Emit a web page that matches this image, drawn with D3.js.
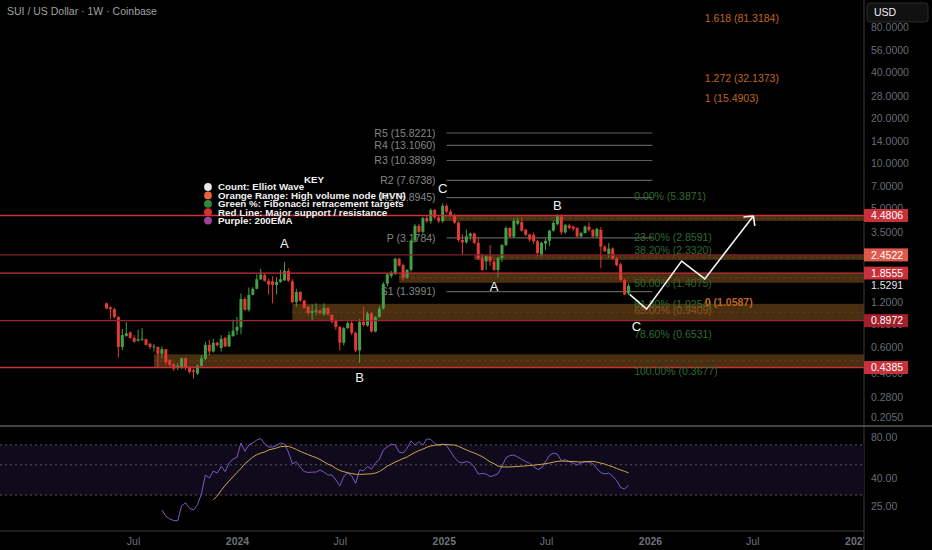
<!DOCTYPE html>
<html><head><meta charset="utf-8">
<script src="https://cdn.jsdelivr.net/npm/d3@7"></script>
<style>
html,body{margin:0;padding:0;background:#000;}
svg{display:block;font-family:"Liberation Sans",Arial,sans-serif;}
</style></head><body>
<svg id="c" width="932" height="550"></svg>
<script>
// ---------------- DATA ----------------
const lastWeek = "2025-11-24";
const opens = [1.17,1.10,1.07,0.95,0.60,0.71,0.75,0.69,0.66,0.67,
0.675,0.63,0.60,0.60,0.54,0.58,0.49,0.46,0.44,0.44,
0.505,0.435,0.42,0.40,0.45,0.50,0.62,0.56,0.64,0.59,
0.69,0.605,0.71,0.77,0.81,1.25,1.06,1.33,1.46,1.69,
1.80,1.65,1.64,1.55,1.62,1.66,1.92,1.64,1.19,1.39,
1.22,1.11,1.01,1.03,1.05,0.99,1.09,0.98,0.895,0.815,
0.64,0.80,0.865,0.745,0.57,0.88,0.83,1.00,0.76,0.95,
1.08,1.58,1.78,1.86,2.31,2.10,1.73,1.95,3.05,3.82,
3.49,4.31,4.10,4.87,4.35,4.10,5.20,4.75,4.50,4.02,
3.08,2.97,3.26,3.40,2.95,2.32,2.22,2.40,2.22,1.95,
2.34,2.85,3.70,3.24,3.95,4.05,3.60,3.35,3.33,3.02,
2.42,2.92,3.04,3.55,3.92,4.42,3.46,3.85,3.78,3.70,
3.25,3.43,3.78,3.59,3.25,3.59,2.78,2.48,2.70,2.32,
2.12,1.67,1.36];
const highs = [1.18,1.12,1.09,0.96,0.79,0.88,0.76,0.72,0.78,0.80,
0.68,0.64,0.63,0.605,0.605,0.58,0.50,0.47,0.47,0.51,
0.51,0.445,0.43,0.46,0.53,0.65,0.67,0.68,0.65,0.72,
0.70,0.76,0.91,0.95,1.36,1.29,1.49,1.50,1.82,1.98,
1.85,1.71,1.77,1.74,1.95,2.20,2.00,1.69,1.46,1.41,
1.23,1.12,1.15,1.17,1.06,1.17,1.10,0.99,0.91,0.83,
0.815,0.89,0.89,0.76,0.92,1.11,1.03,1.02,0.96,1.12,
1.62,1.85,1.92,2.35,2.35,2.14,1.97,3.10,3.94,3.95,
4.40,4.45,5.00,4.95,4.50,5.39,5.30,4.90,4.60,4.10,
3.36,3.62,3.45,3.45,3.20,2.50,2.45,2.85,2.30,2.38,
2.90,3.80,3.75,4.30,4.35,4.35,3.65,3.40,3.45,3.08,
3.00,3.15,3.60,4.15,4.55,4.55,3.95,3.95,3.85,3.75,
3.50,3.85,4.05,3.65,3.70,3.75,2.85,2.95,2.75,2.38,
2.18,1.71,1.58];
const lows = [1.07,0.92,0.93,0.51,0.57,0.70,0.68,0.64,0.65,0.66,
0.615,0.58,0.56,0.445,0.505,0.456,0.445,0.415,0.42,0.43,
0.42,0.40,0.37,0.39,0.445,0.49,0.53,0.55,0.605,0.56,
0.60,0.60,0.70,0.72,0.73,1.04,1.03,1.32,1.45,1.67,
1.63,1.34,1.17,1.34,1.60,1.65,1.63,1.17,1.11,1.19,
1.08,0.98,0.905,0.98,0.99,0.97,0.97,0.86,0.78,0.57,
0.615,0.79,0.72,0.555,0.47,0.82,0.82,0.75,0.75,0.94,
1.06,1.52,1.72,1.80,2.05,1.66,1.70,1.90,2.95,3.42,
3.40,4.00,3.95,4.20,4.00,4.00,4.60,4.40,3.95,3.00,
2.45,2.92,3.05,2.90,2.27,1.92,1.95,2.07,1.92,1.75,
2.20,2.80,3.20,3.18,3.85,3.50,3.28,3.00,2.90,2.40,
2.40,2.64,2.80,3.50,3.85,3.33,3.40,3.60,3.55,3.20,
3.18,3.40,3.50,3.20,3.20,2.00,2.55,2.36,2.28,2.05,
1.64,1.33,1.33];
const closes = [1.08,1.07,0.95,0.60,0.72,0.74,0.69,0.65,0.675,0.68,
0.62,0.60,0.605,0.54,0.58,0.475,0.456,0.43,0.45,0.505,
0.44,0.41,0.41,0.45,0.505,0.62,0.56,0.64,0.615,0.68,
0.605,0.72,0.77,0.815,1.25,1.06,1.33,1.46,1.69,1.82,
1.65,1.56,1.55,1.62,1.69,1.92,1.65,1.19,1.39,1.22,
1.09,1.01,1.04,1.05,1.01,1.09,0.99,0.88,0.815,0.64,
0.80,0.865,0.745,0.57,0.88,0.84,1.00,0.76,0.95,1.08,
1.57,1.82,1.86,2.31,2.08,1.73,1.95,3.05,3.82,3.49,
4.31,4.10,4.87,4.35,4.10,5.20,4.75,4.50,4.02,3.08,
2.97,3.26,3.40,2.95,2.32,1.95,2.40,2.22,1.95,2.34,
2.85,3.70,3.24,4.12,4.15,3.55,3.33,3.10,3.02,2.52,
2.95,3.04,3.55,4.00,4.42,3.46,3.87,3.70,3.65,3.25,
3.43,3.78,3.59,3.25,3.65,2.78,2.60,2.70,2.32,2.10,
1.67,1.34,1.5291];

const rsiStart = 14;
const rsiValues = [23.3,21.0,20.0,19.5,19.4,25.0,26.3,24.0,23.3,25.4,
30.5,42.1,40.0,45.0,43.5,48.6,44.6,51.6,55.0,57.0,
72.3,63.0,69.9,72.3,76.0,78.0,71.0,67.6,67.6,69.3,
72.3,71.0,62.0,50.8,52.6,48.2,44.6,43.9,44.2,44.2,
45.8,44.2,42.1,42.1,38.7,35.0,41.0,43.5,41.5,36.5,
45.8,45.2,48.6,46.5,51.3,55.0,64.2,67.6,71.0,69.9,
62.0,61.0,66.0,75.0,69.9,74.0,69.9,77.4,76.8,71.7,
69.3,71.0,69.3,62.5,56.3,52.6,51.6,52.8,51.8,48.2,
42.8,43.2,42.8,41.0,41.7,43.0,48.6,56.3,58.5,59.0,
57.0,54.8,52.8,51.3,48.6,46.2,47.4,52.6,58.5,61.0,
60.0,53.5,54.5,52.8,51.3,49.9,51.6,52.6,52.4,50.8,
47.0,43.8,42.8,43.5,41.3,38.3,34.1,33.1,35.4];
const rsiMaStart = 27;
const rsiMaValues = [27.6,29.5,32.4,35.3,38.0,40.8,44.0,47.0,51.0,53.8,
57.0,59.3,60.9,62.1,64.2,65.3,66.5,67.9,68.2,68.2,
66.8,64.8,62.7,61.0,59.4,57.8,56.5,54.7,52.6,50.6,
49.2,47.0,45.4,44.5,43.7,43.1,42.6,42.5,42.6,42.8,
42.9,43.5,44.6,46.6,48.9,50.6,52.4,53.8,55.6,57.0,
59.5,61.6,63.6,65.1,67.3,68.7,69.7,70.2,70.4,70.4,
70.0,69.9,68.2,66.3,64.3,62.5,61.0,59.2,57.4,55.0,
52.6,50.9,49.0,48.3,48.2,48.3,48.4,48.6,48.9,49.1,
49.4,49.7,50.1,50.4,51.0,51.5,52.3,53.0,53.3,53.1,
53.0,52.9,52.6,52.4,52.7,52.9,53.0,52.3,51.4,50.6,
49.4,48.3,47.0,45.8,44.8,43.6];
const rsiBands = [70, 50, 30];
const rsiTicks = [80, 40, 25];

const keyLevels = [4.4806, 2.4522, 1.8555, 0.8972, 0.4385];
const lastPrice = 1.5291;

const hvnStart = ["2024-12-30","2025-02-24","2024-10-14","2024-04-08","2023-08-07"];
const hvnLow  = [4.12, 2.27, 1.60, 0.8972, 0.4385];
const hvnHigh = [4.4806, 2.4522, 1.8555, 1.16, 0.536];

const pivotNames  = ["R5","R4","R3","R2","R1","P","S1"];
const pivotValues = [15.8221,13.1060,10.3899,7.6738,5.8945,3.1784,1.3991];
const pivotStart = "2025-01-06", pivotEnd = "2026-01-05";

const fibNames  = ["0.00%","23.60%","38.20%","50.00%","61.80%","65.00%","78.60%","100.00%"];
const fibValues = [5.3871,2.8591,2.3320,1.4075,1.0254,0.9409,0.6531,0.3677];
const fibLabelDate = "2025-12-04";

const extNames  = ["0","1","1.272","1.618"];
const extValues = [1.0587,15.4903,32.1373,81.3184];
const extLabelDate = "2026-04-08";

const waveNames  = ["A","B","C","A","B","C"];
const waveWeeks  = [45,64,85,98,114,134];
const wavePrices = [2.90,0.379,6.82,1.525,5.26,0.815];

const projDates  = ["2025-11-26","2025-12-26","2026-02-26","2026-04-08","2026-07-03"];
const projPrices = [1.34,1.07,2.23,1.70,4.45];

const priceTicks = [80,56,40,28,20,14,10,7,5,3.5,1.2,0.85,0.6,0.4,0.28,0.205];
const timeTicks = ["2023-07-01","2024-01-01","2024-07-01","2025-01-01","2025-07-01","2026-01-01","2026-07-01","2027-01-01"];

const legendTitle = "KEY";
const legendText = ["Count: Elliot Wave","Orange Range: High volume node (HVN)","Green %: Fibonacci retracement targets","Red Line: Major support / resistance","Purple: 200EMA"];
const title = "SUI / US Dollar · 1W · Coinbase";

// ---------------- STYLES ----------------
const UP = "#43a047", DOWN = "#e53935";
const levelLine = ["#c8303a","#7e2227","#c8303a","#9e2630","#c8303a"];
const levelBox  = ["#c8303a","#e05a4c","#c8303a","#a01f29","#c8303a"];
const legendColors = ["#e6e6e6","#e8643c","#2e8b3e","#d93030","#a0409c"];
const fibColors = ["#2f6a33","#2f6a33","#2f6a33","#2f6a33","#2f6a33","#8a5420","#2f6a33","#2f6a33"];
const extDy = [0,-28,0,0];

// ---------------- SETUP ----------------
const svg = d3.select("#c");
const PR = 864, MB = 426;
const N = closes.length;
const day = 864e5;
const parse = s => new Date(s + "T00:00:00Z");
const lastMs = parse(lastWeek).getTime();
const weekDate = i => new Date(lastMs - (N - 1 - i) * 7 * day);

const x = d3.scaleUtc().domain([parse("2024-01-01"), parse("2026-01-01")]).range([237, 650]);
const y = d3.scaleLog().domain([0.205, 80]).range([417.2, 27]);
const yr = d3.scaleLog().domain([25, 80]).range([505.8, 437]);

const defs = svg.append("defs");
defs.append("clipPath").attr("id","cm").append("rect").attr("x",0).attr("y",0).attr("width",PR).attr("height",MB);
defs.append("clipPath").attr("id","cr").append("rect").attr("x",0).attr("y",MB+1).attr("width",PR).attr("height",104);
defs.append("clipPath").attr("id","ct").append("rect").attr("x",0).attr("y",531).attr("width",PR).attr("height",19);

svg.append("rect").attr("width",932).attr("height",550).attr("fill","#000");

const main = svg.append("g").attr("clip-path","url(#cm)");

// HVN bands
const xEnd = x.invert(PR + 5);
hvnStart.forEach((s, k) => {
  const x0 = x(parse(s)), x1 = x(xEnd);
  const yt = y(hvnHigh[k]), yb = y(hvnLow[k]);
  main.append("rect").attr("x",x0).attr("y",yt).attr("width",x1-x0).attr("height",yb-yt)
    .attr("fill","#4d3211").attr("opacity",0.95);
  main.append("line").attr("x1",x0).attr("x2",x1).attr("y1",(yt+yb)/2).attr("y2",(yt+yb)/2)
    .attr("stroke","#6e4c22").attr("stroke-width",0.7).attr("stroke-dasharray","3,3");
});

// Pivot lines
const px0 = x(parse(pivotStart)), px1 = x(parse(pivotEnd));
pivotValues.forEach((v, k) => {
  main.append("line").attr("x1",px0).attr("x2",px1).attr("y1",y(v)).attr("y2",y(v))
    .attr("stroke","#5e5e5e").attr("stroke-width",1.2);
  main.append("text").attr("x",px0-11).attr("y",y(v)).attr("dy","0.35em")
    .attr("text-anchor","end").attr("fill","#858585").attr("font-size",10.5)
    .text(pivotNames[k] + " (" + v.toFixed(4) + ")");
});

// Candles
const idx = d3.range(N);
const cg = main.append("g");
cg.selectAll("line.w").data(idx).join("line").attr("class","w")
  .attr("x1", i => x(weekDate(i))).attr("x2", i => x(weekDate(i)))
  .attr("y1", i => y(highs[i])).attr("y2", i => y(lows[i]))
  .attr("stroke", i => closes[i] >= opens[i] ? UP : DOWN).attr("stroke-width",1);
cg.selectAll("rect.b").data(idx).join("rect").attr("class","b")
  .attr("x", i => x(weekDate(i)) - 1.5).attr("width", 3)
  .attr("y", i => y(Math.max(opens[i], closes[i])))
  .attr("height", i => Math.max(1, Math.abs(y(opens[i]) - y(closes[i]))))
  .attr("fill", i => closes[i] >= opens[i] ? UP : DOWN);

// Key levels (red lines)
keyLevels.forEach((v, k) => {
  main.append("line").attr("x1",0).attr("x2",PR).attr("y1",y(v)).attr("y2",y(v))
    .attr("stroke",levelLine[k]).attr("stroke-width",1.3);
});

// Fib labels
const fx = x(parse(fibLabelDate));
fibValues.forEach((v, k) => {
  main.append("text").attr("x",fx).attr("y",y(v)-7.5).attr("dy","0.35em")
    .attr("fill",fibColors[k]).attr("font-size",10.5)
    .text(fibNames[k] + " (" + v.toFixed(4) + ")");
});
// Extension labels
const ex = x(parse(extLabelDate));
extValues.forEach((v, k) => {
  main.append("text").attr("x",ex).attr("y",y(v)-8+extDy[k]).attr("dy","0.35em")
    .attr("fill","#c0651c").attr("font-size",10.5).attr("font-weight", k===0 ? "bold" : "normal")
    .text(extNames[k] + " (" + v.toFixed(4) + ")");
});

// Legend
const lx = 208, ly = 187, lstep = 8.4;
main.append("text").attr("x",314).attr("y",180).attr("dy","0.35em").attr("text-anchor","middle")
  .attr("fill","#f0f0f0").attr("font-size",9.8).attr("font-weight","bold").text(legendTitle);
legendText.forEach((t, k) => {
  main.append("circle").attr("cx",lx).attr("cy",ly+k*lstep).attr("r",3.9).attr("fill",legendColors[k]);
  main.append("text").attr("x",lx+10).attr("y",ly+k*lstep).attr("dy","0.35em")
    .attr("fill","#f0f0f0").attr("font-size",9.8).attr("font-weight","bold").text(t);
});

// Wave labels
waveNames.forEach((t, k) => {
  main.append("text").attr("x", x(weekDate(waveWeeks[k]))).attr("y", y(wavePrices[k])).attr("dy","0.35em")
    .attr("text-anchor","middle").attr("fill","#f2f2f2").attr("font-size",13).text(t);
});

// Projection path
const pts = projDates.map((d, k) => [x(parse(d)), y(projPrices[k])]);
main.append("path").attr("d", d3.line()(pts)).attr("fill","none").attr("stroke","#f5f5f5").attr("stroke-width",1.6);
const p1 = pts[pts.length-2], p2 = pts[pts.length-1];
const ang = Math.atan2(p2[1]-p1[1], p2[0]-p1[0]);
[0.8, -0.8].forEach(o => {
  const a = ang + Math.PI + o;
  main.append("line").attr("x1",p2[0]).attr("y1",p2[1])
    .attr("x2",p2[0]+10*Math.cos(a)).attr("y2",p2[1]+10*Math.sin(a))
    .attr("stroke","#f5f5f5").attr("stroke-width",1.6);
});

// Title
svg.append("text").attr("x",7).attr("y",14.5).attr("fill","#a0a0a0").attr("font-size",10.5).text(title);

// ---------------- PRICE AXIS ----------------
svg.append("line").attr("x1",PR).attr("x2",PR).attr("y1",0).attr("y2",550).attr("stroke","#3a3a3a").attr("stroke-width",1);
const ya = svg.append("g").attr("transform",`translate(${PR},0)`)
  .call(d3.axisRight(y).tickValues(priceTicks).tickFormat(d3.format(".4f")).tickSize(0).tickPadding(7));
ya.select(".domain").remove();
ya.selectAll("text").attr("fill","#686b74").attr("font-size",10.5).attr("font-family","Liberation Sans, Arial, sans-serif");

keyLevels.forEach((v, k) => {
  svg.append("rect").attr("x",PR).attr("y",y(v)-6.5).attr("width",44).attr("height",13).attr("fill",levelBox[k]);
  svg.append("text").attr("x",PR+7).attr("y",y(v)).attr("dy","0.35em").attr("fill","#fff")
    .attr("font-size",10.5).text(v.toFixed(4));
});
svg.append("rect").attr("x",PR+1).attr("y",y(lastPrice)-6).attr("width",44).attr("height",12).attr("fill","#000");
svg.append("text").attr("x",PR+7).attr("y",y(lastPrice)).attr("dy","0.35em").attr("fill","#e0e8e0")
  .attr("font-size",10.5).text(lastPrice.toFixed(4));

// USD button
svg.append("rect").attr("x",867).attr("y",3).attr("width",61).attr("height",19).attr("rx",3)
  .attr("fill","#111").attr("stroke","#2c2c2c");
svg.append("text").attr("x",874).attr("y",12.5).attr("dy","0.35em").attr("fill","#f0f0f0").attr("font-size",10.5).text("USD");

// ---------------- RSI PANE ----------------
svg.append("line").attr("x1",0).attr("x2",932).attr("y1",MB).attr("y2",MB).attr("stroke","#5a5a5a").attr("stroke-width",1.5);
const rg = svg.append("g").attr("clip-path","url(#cr)");
rg.append("rect").attr("x",0).attr("y",yr(70)).attr("width",PR).attr("height",yr(30)-yr(70)).attr("fill","#0f0b1c");
rsiBands.forEach(v => {
  rg.append("line").attr("x1",0).attr("x2",PR).attr("y1",yr(v)).attr("y2",yr(v))
    .attr("stroke","#55555f").attr("stroke-width",1).attr("stroke-dasharray","2,3");
});
const rline = d3.line().x(d => x(weekDate(d[0]))).y(d => yr(d[1]));
rg.append("path").attr("d", rline(rsiValues.map((v,k)=>[rsiStart+k, v])))
  .attr("fill","none").attr("stroke","#7e57c2").attr("stroke-width",1);
rg.append("path").attr("d", rline(rsiMaValues.map((v,k)=>[rsiMaStart+k, v])))
  .attr("fill","none").attr("stroke","#cfa54a").attr("stroke-width",1);

const ra = svg.append("g").attr("transform",`translate(${PR},0)`)
  .call(d3.axisRight(yr).tickValues(rsiTicks).tickFormat(d3.format(".2f")).tickSize(0).tickPadding(7));
ra.select(".domain").remove();
ra.selectAll("text").attr("fill","#686b74").attr("font-size",10.5).attr("font-family","Liberation Sans, Arial, sans-serif");

// ---------------- TIME AXIS ----------------
svg.append("line").attr("x1",0).attr("x2",PR).attr("y1",531).attr("y2",531).attr("stroke","#3a3a3a").attr("stroke-width",1.2);
const ta = svg.append("g").attr("clip-path","url(#ct)").append("g").attr("transform","translate(0,533)")
  .call(d3.axisBottom(x).tickValues(timeTicks.map(parse)).tickSize(0).tickPadding(5)
    .tickFormat(d => d.getUTCMonth() === 0 ? String(d.getUTCFullYear()) : "Jul"));
ta.select(".domain").remove();
ta.selectAll("text").attr("fill","#6e717a").attr("font-size",10.5).attr("font-family","Liberation Sans, Arial, sans-serif")
  .attr("font-weight", d => d.getUTCMonth() === 0 ? "bold" : "normal");
</script>
</body></html>
